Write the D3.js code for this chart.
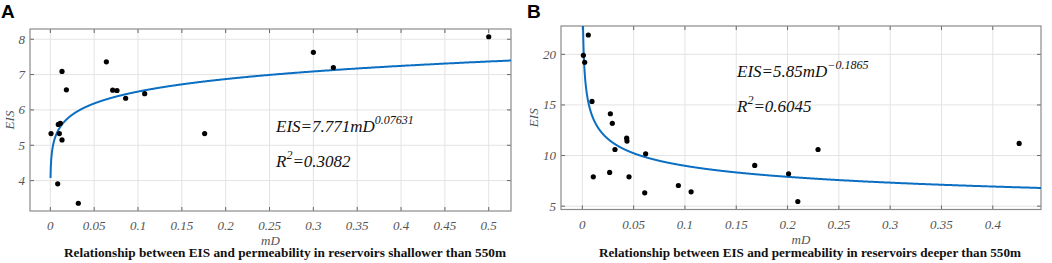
<!DOCTYPE html>
<html><head><meta charset="utf-8">
<script src="https://cdn.jsdelivr.net/npm/d3@7"></script>
<style>body{margin:0;background:#fff}svg{display:block}</style>
</head><body>
<script>
// Panel A data (shallower than 550m)
const mdA  = [0.0008,0.0084,0.0103,0.0091,0.0114,0.0133,0.0133,0.0183,0.0319,0.0639,0.0711,0.0760,0.0859,0.1076,0.176,0.300,0.3228,0.500];
const eisA = [5.33,3.91,5.33,5.59,5.62,5.15,7.09,6.57,3.36,7.36,6.56,6.55,6.33,6.46,5.33,7.63,7.20,8.07];
const ticksXA = [0,0.05,0.1,0.15,0.2,0.25,0.3,0.35,0.4,0.45,0.5];
const ticksYA = [4,5,6,7,8];
const fitA = {a:7.771, b:0.07631};
// Panel B data (deeper than 550m)
const mdB  = [0.001,0.0023,0.0058,0.0094,0.0107,0.0266,0.0273,0.0292,0.0318,0.0432,0.0435,0.0455,0.0608,0.0617,0.0936,0.106,0.168,0.201,0.210,0.2297,0.4257];
const eisB = [19.9,19.21,21.91,15.35,7.9,8.33,14.13,13.18,10.6,11.72,11.43,7.9,6.32,10.17,7.04,6.42,9.02,8.2,5.46,10.6,11.2];
const ticksXB = [0,0.05,0.1,0.15,0.2,0.25,0.3,0.35,0.4];
const ticksYB = [5,10,15,20];
const fitB = {a:5.85, b:-0.1865};

const svg = d3.select("body").append("svg").attr("width",1052).attr("height",263);
const SERIF = "'Liberation Serif', 'DejaVu Serif', serif";

function panel(cfg){
  const g = svg.append("g");
  const x = d3.scaleLinear().domain(cfg.xd).range([cfg.l, cfg.r]);
  const y = d3.scaleLinear().domain(cfg.yd).range([cfg.b, cfg.t]);
  const clipId = "clip"+cfg.letter;
  svg.append("clipPath").attr("id",clipId).append("rect")
    .attr("x",cfg.l).attr("y",cfg.t).attr("width",cfg.r-cfg.l).attr("height",cfg.b-cfg.t);
  // grid
  g.selectAll(".gx").data(cfg.tx).join("line")
    .attr("x1",d=>x(d)).attr("x2",d=>x(d)).attr("y1",cfg.t).attr("y2",cfg.b)
    .attr("stroke","#e3e3e3").attr("stroke-width",1);
  g.selectAll(".gy").data(cfg.ty).join("line")
    .attr("y1",d=>y(d)).attr("y2",d=>y(d)).attr("x1",cfg.l).attr("x2",cfg.r)
    .attr("stroke","#e3e3e3").attr("stroke-width",1);
  // ticks (inside, both sides)
  const tl = 4;
  cfg.tx.forEach(d=>{
    g.append("line").attr("x1",x(d)).attr("x2",x(d)).attr("y1",cfg.b).attr("y2",cfg.b-tl).attr("stroke","#666");
    g.append("line").attr("x1",x(d)).attr("x2",x(d)).attr("y1",cfg.t).attr("y2",cfg.t+tl).attr("stroke","#666");
  });
  cfg.ty.forEach(d=>{
    g.append("line").attr("y1",y(d)).attr("y2",y(d)).attr("x1",cfg.l).attr("x2",cfg.l+tl).attr("stroke","#666");
    g.append("line").attr("y1",y(d)).attr("y2",y(d)).attr("x1",cfg.r).attr("x2",cfg.r-tl).attr("stroke","#666");
  });
  // box
  g.append("rect").attr("x",cfg.l).attr("y",cfg.t).attr("width",cfg.r-cfg.l).attr("height",cfg.b-cfg.t)
    .attr("fill","none").attr("stroke","#8a8a8a").attr("stroke-width",1.2);
  // tick labels
  const fmt = d=> String(d);
  g.selectAll(".lx").data(cfg.tx).join("text")
    .attr("x",d=>x(d)).attr("y",cfg.b+19).attr("text-anchor","middle")
    .attr("font-family",SERIF).attr("font-style","italic")
    .attr("font-size",13).attr("fill","#555").text(fmt);
  g.selectAll(".ly").data(cfg.ty).join("text")
    .attr("x",cfg.l-5).attr("y",d=>y(d)+4.5).attr("text-anchor","end")
    .attr("font-family",SERIF).attr("font-style","italic")
    .attr("font-size",13).attr("fill","#555").text(fmt);
  // axis titles
  g.append("text").attr("x",(cfg.l+cfg.r)/2).attr("y",cfg.b+34).attr("text-anchor","middle")
    .attr("font-family",SERIF).attr("font-style","italic")
    .attr("font-size",13).attr("fill","#555").text("mD");
  g.append("text").attr("transform",`translate(${cfg.l-cfg.yo},${(cfg.t+cfg.b)/2}) rotate(-90)`)
    .attr("text-anchor","middle")
    .attr("font-family",SERIF).attr("font-style","italic")
    .attr("font-size",13).attr("fill","#555").text("EIS");
  // fit curve
  const xs = d3.range(0, 2001).map(i=> Math.exp(Math.log(cfg.xs0) + (Math.log(cfg.xd[1])-Math.log(cfg.xs0))*i/2000));
  const line = d3.line().x(d=>x(d)).y(d=>y(cfg.fit.a*Math.pow(d,cfg.fit.b)));
  g.append("path").attr("d",line(xs)).attr("fill","none").attr("stroke","#0a6fc2")
    .attr("stroke-width",2).attr("clip-path",`url(#${clipId})`);
  // points
  g.selectAll(".pt").data(cfg.xv.map((v,i)=>[v,cfg.yv[i]])).join("circle")
    .attr("cx",d=>x(d[0])).attr("cy",d=>y(d[1])).attr("r",2.6).attr("fill","#000");
  // equation
  const eq = g.append("text").attr("x",cfg.ex).attr("y",cfg.ey)
    .attr("font-family",SERIF).attr("font-style","italic")
    .attr("font-size",17).attr("fill","#111");
  eq.append("tspan").text(`EIS=${cfg.fit.a}mD`);
  eq.append("tspan").attr("dy",-8).attr("font-size",12).text(cfg.expTxt);
  const r2 = g.append("text").attr("x",cfg.ex).attr("y",cfg.ey+35)
    .attr("font-family",SERIF).attr("font-style","italic")
    .attr("font-size",17).attr("fill","#111");
  r2.append("tspan").text("R");
  r2.append("tspan").attr("dy",-8).attr("font-size",12).text("2");
  r2.append("tspan").attr("dy",8).text(cfg.r2Txt);
  // caption
  g.append("text").attr("x",cfg.cx).attr("y",257)
    .attr("font-family",SERIF).attr("font-weight","bold")
    .attr("font-size",12.5).attr("fill","#111")
    .attr("textLength",cfg.cw).attr("lengthAdjust","spacingAndGlyphs").text(cfg.caption);
  // panel letter
  svg.append("text").attr("x",cfg.lx).attr("y",18)
    .attr("font-family","'Liberation Sans', Arial, sans-serif").attr("font-weight","bold")
    .attr("font-size",19).attr("fill","#000").text(cfg.letter);
}

panel({letter:"A", lx:1, l:30, r:511, t:29, b:211, xd:[-0.0232,0.5254], yd:[3.14,8.29],
  tx:ticksXA, ty:ticksYA, xv:mdA, yv:eisA, fit:fitA, xs0:0.00021, yo:16,
  expTxt:"0.07631", r2Txt:"=0.3082", ex:276, ey:132,
  caption:"Relationship between EIS and permeability in reservoirs shallower than 550m", cx:64, cw:442});
panel({letter:"B", lx:527, l:561, r:1041, t:26, b:209.5, xd:[-0.0208,0.447], yd:[4.67,22.8],
  tx:ticksXB, ty:ticksYB, xv:mdB, yv:eisB, fit:fitB, xs0:0.0005, yo:23,
  expTxt:"\u22120.1865", r2Txt:"=0.6045", ex:737, ey:77,
  caption:"Relationship between EIS and permeability in reservoirs deeper than 550m", cx:599, cw:422});
</script>
</body></html>
